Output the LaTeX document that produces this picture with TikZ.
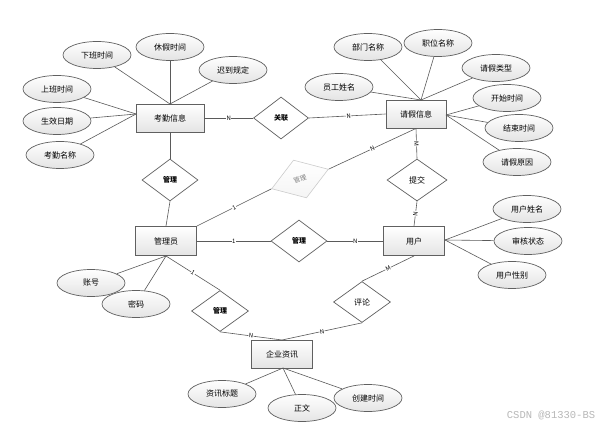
\documentclass[tikz,border=0pt]{standalone}
\usepackage{fontspec}
\setmainfont{Noto Sans CJK SC}
\newfontfamily\wmfont{Liberation Mono}
\usetikzlibrary{shapes.geometric}
\definecolor{edgec}{HTML}{5A5A5A}
\definecolor{bordc}{HTML}{606060}
\definecolor{shadec}{HTML}{E4E4E4}
\tikzset{
  entity/.style={draw=bordc, line width=0.9pt, top color=white, bottom color=shadec,
    minimum width=61pt, minimum height=28pt, inner sep=0pt, font=\fontsize{8}{9}\selectfont},
  attr/.style={ellipse, draw=bordc, line width=0.7pt, top color=white, bottom color=shadec,
    minimum width=68pt, minimum height=27pt, inner sep=0pt, font=\fontsize{8}{9}\selectfont},
  rel/.style={diamond, draw=bordc, line width=0.7pt, fill=white,
    minimum width=56pt, minimum height=42pt, inner sep=0pt, font=\fontsize{7}{8}\selectfont\bfseries},
  link/.style={draw=edgec, line width=0.6pt},
  card/.style={font=\fontsize{6}{6}\selectfont, fill=white, inner sep=0.4pt, sloped},
}
\begin{document}
\begin{tikzpicture}[x=1pt,y=-1pt]
\useasboundingbox (0,0) rectangle (607,427);
\fill[white] (0,0) rectangle (607,427);

% entities
\node[entity, minimum width=68pt] (kq) at (170,118) {考勤信息};
\node[entity, minimum width=60pt] (qj) at (416,114) {请假信息};
\node[entity, minimum height=29pt] (gly) at (166,241) {管理员};
\node[entity, minimum height=29pt] (yh) at (414,241) {用户};
\node[entity, minimum height=28pt] (zx) at (282,354) {企业资讯};

% relations
\node[rel, minimum width=55pt] (d1) at (281,118) {关联};
\node[rel] (d2) at (170,180) {管理};
\node[diamond, draw=black!20, line width=0.6pt, top color=white, bottom color=black!4,
  minimum width=60pt, minimum height=40pt, inner sep=0pt, rotate=19,
  text=black!50, font=\fontsize{6.5}{7}\selectfont] (d3) at (300,179) {管理};
\node[rel, minimum width=60pt, font=\fontsize{8}{9}\selectfont] (d4) at (417,180) {提交};
\node[rel] (d5) at (299,241) {管理};
\node[rel, minimum width=57pt, minimum height=41pt] (d6) at (220,311) {管理};
\node[rel, minimum width=57pt, minimum height=41pt, font=\fontsize{8}{9}\selectfont] (d7) at (362,302) {评论};

% attributes of 考勤信息
\node[attr] (a1) at (97,55) {下班时间};
\node[attr] (a2) at (170,47) {休假时间};
\node[attr] (a3) at (233,70) {迟到规定};
\node[attr] (a4) at (57,89) {上班时间};
\node[attr] (a5) at (57,121) {生效日期};
\node[attr] (a6) at (60,155) {考勤名称};

% attributes of 请假信息
\node[attr] (b1) at (368,47) {部门名称};
\node[attr] (b2) at (438,43) {职位名称};
\node[attr] (b3) at (496,68) {请假类型};
\node[attr] (b4) at (339,87) {员工姓名};
\node[attr] (b5) at (507,98) {开始时间};
\node[attr] (b6) at (519,128) {结束时间};
\node[attr] (b7) at (517,162) {请假原因};

% attributes of 用户
\node[attr] (c1) at (527,209) {用户姓名};
\node[attr] (c2) at (528,241) {审核状态};
\node[attr] (c3) at (512,275) {用户性别};

% attributes of 管理员
\node[attr] (e1) at (91,283) {账号};
\node[attr] (e2) at (136,304) {密码};

% attributes of 企业资讯
\node[attr] (f1) at (222,394) {资讯标题};
\node[attr] (f2) at (302,408) {正文};
\node[attr] (f3) at (368,398) {创建时间};

\coordinate (kqt) at (170,104);
\coordinate (kql) at (136,114);
\coordinate (qjt) at (421,100);
\coordinate (qjr) at (446,115);
\coordinate (glyb) at (166,256);
\coordinate (zxb) at (283,368);
\coordinate (zxt) at (282,340);
\coordinate (yhr) at (445,240);

% attribute links
\foreach \n in {a1,a2,a3} \draw[link] (\n) -- (kqt);
\foreach \n in {a4,a5,a6} \draw[link] (\n) -- (kql);
\foreach \n in {b1,b2,b3,b4} \draw[link] (\n) -- (qjt);
\foreach \n in {b5,b6,b7} \draw[link] (\n) -- (qjr);
\foreach \n in {c1,c2,c3} \draw[link] (\n) -- (yhr);
\foreach \n in {e1,e2} \draw[link] (\n) -- (glyb);
\foreach \n in {f1,f2,f3} \draw[link] (\n) -- (zxb);

% relationship links
\draw[link] (kq.east) -- node[card, pos=0.5] {N} (d1.west);
\draw[link] (d1.east) -- node[card, pos=0.52] {N} (qj.west);
\draw[link] (kq.south) -- (d2.north);
\draw[link] (d2.south) -- (gly.north);
\draw[link] (gly.north east) -- node[card, pos=0.5] {1} (d3.west);
\draw[link] (d3.east) -- node[card, pos=0.5] {N} (qj.south);
\draw[link] (qj.south) -- node[card, pos=0.5] {M} (d4.north);
\draw[link] (d4.south) -- node[card, pos=0.5] {N} (yh.north);
\draw[link] (gly.east) -- node[card, pos=0.5] {1} (d5.west);
\draw[link] (d5.east) -- node[card, pos=0.5] {N} (yh.west);
\draw[link] (glyb) -- node[card, pos=0.5] {1} (d6.north);
\draw[link] (d6.south) -- node[card, pos=0.5] {N} (zxt);
\draw[link] (d7.south) -- node[card, pos=0.5] {N} (zxt);
\draw[link] (yh.south) -- node[card, pos=0.5] {M} (d7.north);

% watermark
\node[text=black!28, font=\wmfont\fontsize{10.5}{11}\selectfont] (wm) at (551,415) {CSDN @81330-BS};
\end{tikzpicture}
\end{document}
